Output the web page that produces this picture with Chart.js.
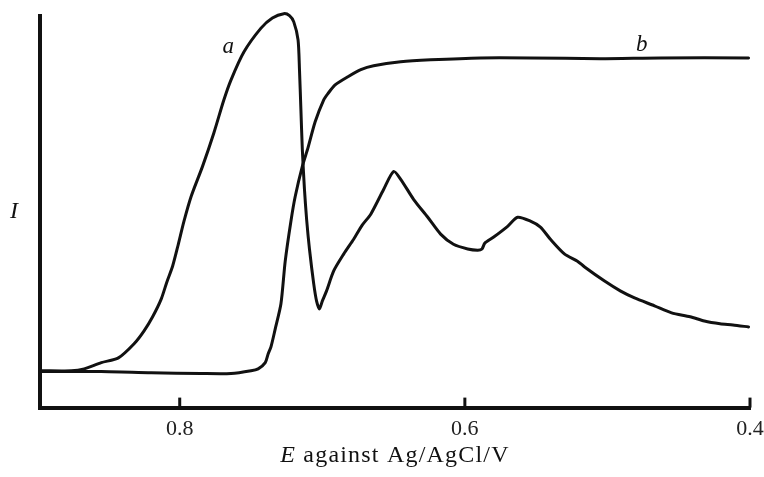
<!DOCTYPE html>
<html>
<head>
<title>Voltammogram</title>
<script src="https://cdn.jsdelivr.net/npm/chart.js"></script>
<style>
  html, body { margin: 0; padding: 0; background: #fff; }
  #wrap { width: 764px; height: 477px; }
</style>
</head>
<body>
<div id="wrap"><canvas id="plot"></canvas></div>
<script>
// curve a: potential (V) and current (arbitrary units)
var potentialA = [0.897, 0.876, 0.867, 0.855, 0.843, 0.832, 0.825, 0.819, 0.813, 0.809,
  0.805, 0.801, 0.797, 0.792, 0.784, 0.776, 0.769, 0.764, 0.755, 0.743,
  0.735, 0.727, 0.723, 0.720, 0.717, 0.716, 0.715, 0.714, 0.7125, 0.711,
  0.709, 0.706, 0.704, 0.702, 0.700, 0.697, 0.692, 0.685, 0.678, 0.672,
  0.666, 0.657, 0.650, 0.645, 0.636, 0.626, 0.617, 0.608, 0.598, 0.591,
  0.588, 0.586, 0.580, 0.570, 0.563, 0.554, 0.547, 0.540, 0.530, 0.521,
  0.516, 0.502, 0.491, 0.481, 0.467, 0.455, 0.442, 0.432, 0.421, 0.412, 0.401];
var currentA = [9.4, 9.4, 9.9, 11.5, 12.7, 16.3, 19.6, 23.2, 27.7, 32.1,
  36.1, 41.7, 47.6, 53.9, 61.6, 70.2, 78.6, 83.7, 90.8, 96.9,
  99.5, 100.6, 100.1, 98.5, 93.9, 86.3, 76.1, 65.9, 55.7, 48.1,
  40.5, 31.6, 27.2, 25.2, 27.2, 29.8, 34.9, 39.2, 43.0, 46.6,
  49.4, 55.7, 60.3, 58.3, 53.2, 48.6, 44.3, 41.7, 40.5, 40.2,
  40.5, 42.0, 43.5, 46.3, 48.6, 47.6, 46.1, 43.0, 39.2, 37.4,
  35.9, 32.3, 29.8, 28.0, 26.0, 24.2, 23.2, 22.1, 21.4, 21.1, 20.6];

// curve b
var potentialB = [0.897, 0.855, 0.820, 0.785, 0.764, 0.750, 0.745, 0.740, 0.738, 0.736,
  0.733, 0.729, 0.726, 0.722, 0.719, 0.714, 0.710, 0.705, 0.699, 0.696,
  0.691, 0.682, 0.673, 0.664, 0.645, 0.624, 0.589, 0.554, 0.505, 0.463, 0.401];
var currentB = [9.2, 9.2, 8.9, 8.7, 8.7, 9.4, 9.9, 11.5, 13.7, 15.5,
  20.1, 26.5, 37.4, 47.6, 53.9, 61.6, 66.4, 73.0, 78.6, 80.2,
  82.4, 84.5, 86.3, 87.3, 88.3, 88.8, 89.3, 89.3, 89.1, 89.3, 89.3];

var tickValues = [0.8, 0.6, 0.4];

function toPoints(xs, ys) {
  var pts = [];
  for (var i = 0; i < xs.length; i++) {
    pts.push({x: xs[i], y: ys[i]});
  }
  return pts;
}

var ink = '#111';
var serif = '"Liberation Serif", "Times New Roman", serif';

// inward tick marks, curve letters, axis labels
var decorations = {
  id: 'decorations',
  afterDraw: function(chart) {
    var ctx = chart.ctx;
    var xs = chart.scales.x;
    var ys = chart.scales.y;
    var base = ys.getPixelForValue(0);
    ctx.save();
    ctx.strokeStyle = ink;
    ctx.lineWidth = 3;
    tickValues.forEach(function(v) {
      var px = xs.getPixelForValue(v);
      ctx.beginPath();
      ctx.moveTo(px, base);
      ctx.lineTo(px, base - 10);
      ctx.stroke();
    });

    ctx.fillStyle = ink;
    ctx.textAlign = 'center';
    ctx.textBaseline = 'middle';
    ctx.font = 'italic 23px ' + serif;
    ctx.fillText('a', xs.getPixelForValue(0.766), ys.getPixelForValue(92));
    ctx.fillText('b', xs.getPixelForValue(0.476), ys.getPixelForValue(92.5));
    ctx.font = 'italic 24px ' + serif;
    ctx.fillText('I', chart.chartArea.left - 26, ys.getPixelForValue(50));

    // x-axis title: italic E followed by roman text
    var head = 'E';
    var rest = ' against Ag/AgCl/V';
    ctx.letterSpacing = '1.2px';
    ctx.font = 'italic 24px ' + serif;
    var w1 = ctx.measureText(head).width;
    ctx.font = '24px ' + serif;
    var w2 = ctx.measureText(rest).width;
    var cx = (xs.left + xs.right) / 2;
    var ty = base + 48;
    var x0 = cx - (w1 + w2) / 2;
    ctx.textAlign = 'left';
    ctx.font = 'italic 24px ' + serif;
    ctx.fillText(head, x0, ty);
    ctx.font = '24px ' + serif;
    ctx.fillText(rest, x0 + w1, ty);
    ctx.letterSpacing = '0px';
    ctx.restore();
  }
};

var lineStyle = {
  borderColor: ink,
  borderWidth: 3,
  pointRadius: 0,
  tension: 0.25,
  fill: false,
  clip: false,
  borderJoinStyle: 'round',
  borderCapStyle: 'round'
};

new Chart(document.getElementById('plot'), {
  type: 'line',
  data: {
    datasets: [
      Object.assign({label: 'a', data: toPoints(potentialA, currentA)}, lineStyle),
      Object.assign({label: 'b', data: toPoints(potentialB, currentB)}, lineStyle)
    ]
  },
  options: {
    responsive: true,
    maintainAspectRatio: false,
    animation: false,
    devicePixelRatio: 1,
    layout: {padding: {left: 40, right: 14, top: 16, bottom: 27}},
    plugins: {legend: {display: false}, tooltip: {enabled: false}},
    scales: {
      x: {
        type: 'linear',
        reverse: true,
        min: 0.4,
        max: 0.898,
        afterBuildTicks: function(scale) {
          scale.ticks = tickValues.map(function(v) { return {value: v}; });
        },
        afterFit: function(scale) {
          // let the 0.4 label hang into the right margin
          scale.paddingLeft = 0;
          scale.paddingRight = 0;
        },
        ticks: {
          callback: function(v) { return v.toFixed(1); },
          font: {family: serif, size: 22},
          color: '#222',
          padding: 8,
          maxRotation: 0,
          autoSkip: false
        },
        grid: {display: true, drawOnChartArea: false, drawTicks: false},
        border: {display: true, width: 4, color: ink}
      },
      y: {
        min: 0,
        max: 100,
        ticks: {display: false},
        grid: {display: true, drawOnChartArea: false, drawTicks: false},
        border: {display: true, width: 4, color: ink}
      }
    }
  },
  plugins: [decorations]
});
</script>
</body>
</html>
